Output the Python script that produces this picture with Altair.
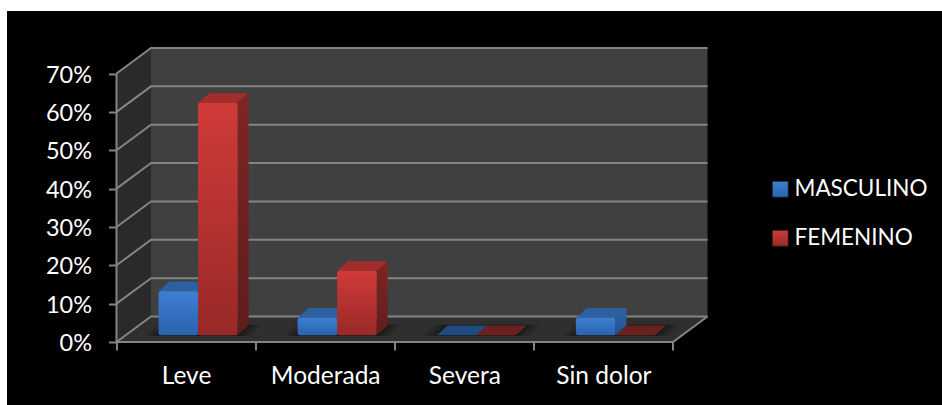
import altair as alt
import pandas as pd

# Survey shares by pain level and sex (percent)
categories = ["Leve", "Moderada", "Severa", "Sin dolor"]
masculino = [11.5, 4.6, 0, 4.6]
femenino = [60.6, 16.8, 0, 0]
y_ticks = [0, 10, 20, 30, 40, 50, 60, 70]
series_names = ["MASCULINO", "FEMENINO"]

# Oblique projection of the 3D box: depth expressed in axis units
N = len(categories)
PX_X = 139.05  # pixels per category
PX_Y = 3.835   # pixels per percentage point
WALL_DX = 34.5 / PX_X
WALL_DY = 25.5 / PX_Y
X_MAX = N + WALL_DX
Y_MAX = 70 + WALL_DY
BAR_LEFT = 42.0 / PX_X
BAR_W = 39.5 / PX_X
BAR_DX = 11.0 / PX_X
BAR_DY = 9.7 / PX_Y
BAR_BASE = 6.7 / PX_Y

LINE = "#848484"
LINE_W = 2
FONT = "Lato"


def grad_expr(top, bottom):
    return alt.ExprRef(
        "{gradient:'linear',x1:0,y1:0,x2:0,y2:1,stops:["
        f"{{offset:0,color:'{top}'}},{{offset:1,color:'{bottom}'}}]}}"
    )


# Rows for bars and their faces
bars = []
tops = []
sides = []
for s, (name, values) in enumerate(zip(series_names, [masculino, femenino])):
    for c, v in enumerate(values):
        x0 = c + BAR_LEFT + s * BAR_W
        x1 = x0 + BAR_W
        y0 = BAR_BASE
        y1 = BAR_BASE + v
        bars.append(dict(series=name, x0=x0, x1=x1, y0=y0, y1=y1))
        if v > 0:
            shade = "#2c609f" if s == 0 else "#a32d2b"
        else:
            shade = "#214a80" if s == 0 else "#6a2120"
        for t in (0, 1):
            tops.append(dict(face=f"{s}-{c}", shade=shade, s=s,
                             y=y1 + t * BAR_DY,
                             xa=x0 + t * BAR_DX, xb=x1 + t * BAR_DX))
            if v > 0:
                sides.append(dict(face=f"{s}-{c}", s=s, x=x1 + t * BAR_DX,
                                  ya=y0 + t * BAR_DY, yb=y1 + t * BAR_DY))

bars_df = pd.DataFrame(bars)
tops_df = pd.DataFrame(tops).sort_values("s", ascending=False, kind="stable")
sides_df = pd.DataFrame(sides)

x_scale = alt.Scale(domain=[0, X_MAX], nice=False, zero=False)
y_scale = alt.Scale(domain=[0, Y_MAX], nice=False, zero=False)

# Ticks sit on category edges, labels on category centres
x_axis = alt.Axis(
    values=[0, 0.5, 1, 1.5, 2, 2.5, 3, 3.5, 4],
    title=None, grid=False, domain=False, zindex=1,
    tickColor=LINE, tickWidth=LINE_W, tickSize=8,
    tickOpacity=alt.ExprRef("datum.value % 1 === 0 ? 1 : 0"),
    labelColor="#ffffff", labelFont=FONT, labelFontSize=24.5,
    labelPadding=14, labelAngle=0, labelOverlap=False, labelFlush=False,
    labelExpr="datum.value % 1 === 0 ? '' : " + str(categories) + "[floor(datum.value)]",
)
y_axis = alt.Axis(
    values=y_ticks, title=None, grid=False, domain=False, zindex=1,
    tickColor=LINE, tickWidth=LINE_W, tickSize=8,
    labelColor="#ffffff", labelFont=FONT, labelFontSize=23.5,
    labelPadding=17, labelOffset=1.5,
    labelExpr="datum.value + '%'",
)
X = lambda f: alt.X(f, type="quantitative", scale=x_scale, axis=x_axis)
Y = lambda f: alt.Y(f, type="quantitative", scale=y_scale, axis=y_axis)

# Page frame: black panel behind the whole chart
frame = alt.Chart(pd.DataFrame({"k": [0]})).mark_rect(color="#000000", clip=False).encode(
    x=alt.value(-109.5), x2=alt.value(825.5), y=alt.value(-37), y2=alt.value(357)
)

# Walls and floor
back = pd.DataFrame({"x": [WALL_DX, X_MAX], "a": [WALL_DY] * 2, "b": [Y_MAX] * 2})
back_wall = alt.Chart(back).mark_area(color="#404040", interpolate="linear").encode(
    x=X("x"), y=Y("a"), y2="b"
)
left = pd.DataFrame({"x": [0, WALL_DX], "a": [0, WALL_DY], "b": [70, Y_MAX]})
left_wall = alt.Chart(left).mark_area(color="#2a2a2a", interpolate="linear").encode(
    x=X("x"), y=Y("a"), y2="b"
)
floor = pd.DataFrame({"y": [0, WALL_DY], "a": [0, WALL_DX], "b": [N, X_MAX]})
floor_area = alt.Chart(floor).mark_area(
    color="#2f2f2f", orient="horizontal", interpolate="linear"
).encode(y=Y("y"), x=X("a"), x2="b")

# Gridlines fold from the left wall onto the back wall
grid_rows = []
for t in y_ticks:
    grid_rows += [
        dict(t=t, i=0, x=0, y=t),
        dict(t=t, i=1, x=WALL_DX, y=t + WALL_DY),
        dict(t=t, i=2, x=X_MAX, y=t + WALL_DY),
    ]
grid = alt.Chart(pd.DataFrame(grid_rows)).mark_line(
    color=LINE, strokeWidth=LINE_W, interpolate="linear"
).encode(x=X("x"), y=Y("y"), detail="t:N", order="i:Q")

edges = pd.DataFrame([
    dict(e="a", i=0, x=0, y=0), dict(e="a", i=1, x=0, y=70),
    dict(e="b", i=0, x=0, y=0), dict(e="b", i=1, x=N, y=0),
    dict(e="b", i=2, x=X_MAX, y=WALL_DY),
])
edge_lines = alt.Chart(edges).mark_line(
    color=LINE, strokeWidth=LINE_W, interpolate="linear"
).encode(x=X("x"), y=Y("y"), detail="e:N", order="i:Q")

# Soft contact shadows on the floor, one pool per category
shadow_rows = []
for c in range(N):
    for k, grow in enumerate([0.09, 0.05, 0.02]):
        for t in (0, 1):
            shadow_rows.append(dict(
                face=f"{c}-{k}",
                y=BAR_BASE - 0.2 + t * (BAR_DY + 0.4),
                xa=c + BAR_LEFT - grow + t * BAR_DX,
                xb=c + BAR_LEFT + 2 * BAR_W + grow + t * BAR_DX,
            ))
shadows = alt.Chart(pd.DataFrame(shadow_rows)).mark_area(
    color="#000000", opacity=0.16, orient="horizontal", interpolate="linear"
).encode(y=Y("y"), x=X("xa"), x2="xb", detail="face:N")

# Bar faces
top_faces = alt.Chart(tops_df).mark_area(orient="horizontal", interpolate="linear").encode(
    y=Y("y"), x=X("xa"), x2="xb", detail="face:N",
    fill=alt.Fill("shade:N", scale=None),
)
side_blue = alt.Chart(sides_df[sides_df.s == 0]).mark_area(
    color=alt.Gradient(gradient="linear", x1=0, y1=0, x2=0, y2=1, stops=[
        alt.GradientStop(offset=0, color="#2c62aa"), alt.GradientStop(offset=1, color="#24528f")]),
    interpolate="linear",
).encode(x=X("x"), y=Y("ya"), y2="yb", detail="face:N")
side_red = alt.Chart(sides_df[sides_df.s == 1]).mark_area(
    color=alt.Gradient(gradient="linear", x1=0, y1=0, x2=0, y2=1, stops=[
        alt.GradientStop(offset=0, color="#7f2624"), alt.GradientStop(offset=1, color="#5e1d1c")]),
    interpolate="linear",
).encode(x=X("x"), y=Y("ya"), y2="yb", detail="face:N")

fronts = alt.Chart(bars_df).mark_bar(cornerRadius=2).encode(
    x=X("x0"),
    x2="x1:Q",
    y=Y("y0"),
    y2="y1:Q",
    color=alt.Color("series:N", scale=alt.Scale(
        domain=series_names,
        range=[grad_expr("#3d7fd2", "#2a62ad"), grad_expr("#d03b38", "#982927")],
    ), legend=alt.Legend(
        title=None, orient="none", legendX=652.5, legendY=130,
        symbolType="square", symbolSize=256, symbolStrokeWidth=0.8,
        symbolStrokeColor="#1c1c1c", labelColor="#ffffff", labelFont=FONT,
        labelFontSize=22.5, labelOffset=3, rowPadding=26, symbolOpacity=1,
    )),
)

chart = alt.layer(
    frame, back_wall, left_wall, floor_area, grid, edge_lines, shadows,
    top_faces, side_blue, side_red, fronts,
).properties(
    width=591, height=294,
    padding={"left": 116.5, "top": 48, "right": 234.5, "bottom": 63},
    autosize=alt.AutoSizeParams(type="none"),
    background="#ffffff",
).configure_view(stroke=None)

chart.save("out.html", embed_options={"renderer": "svg", "actions": False})
